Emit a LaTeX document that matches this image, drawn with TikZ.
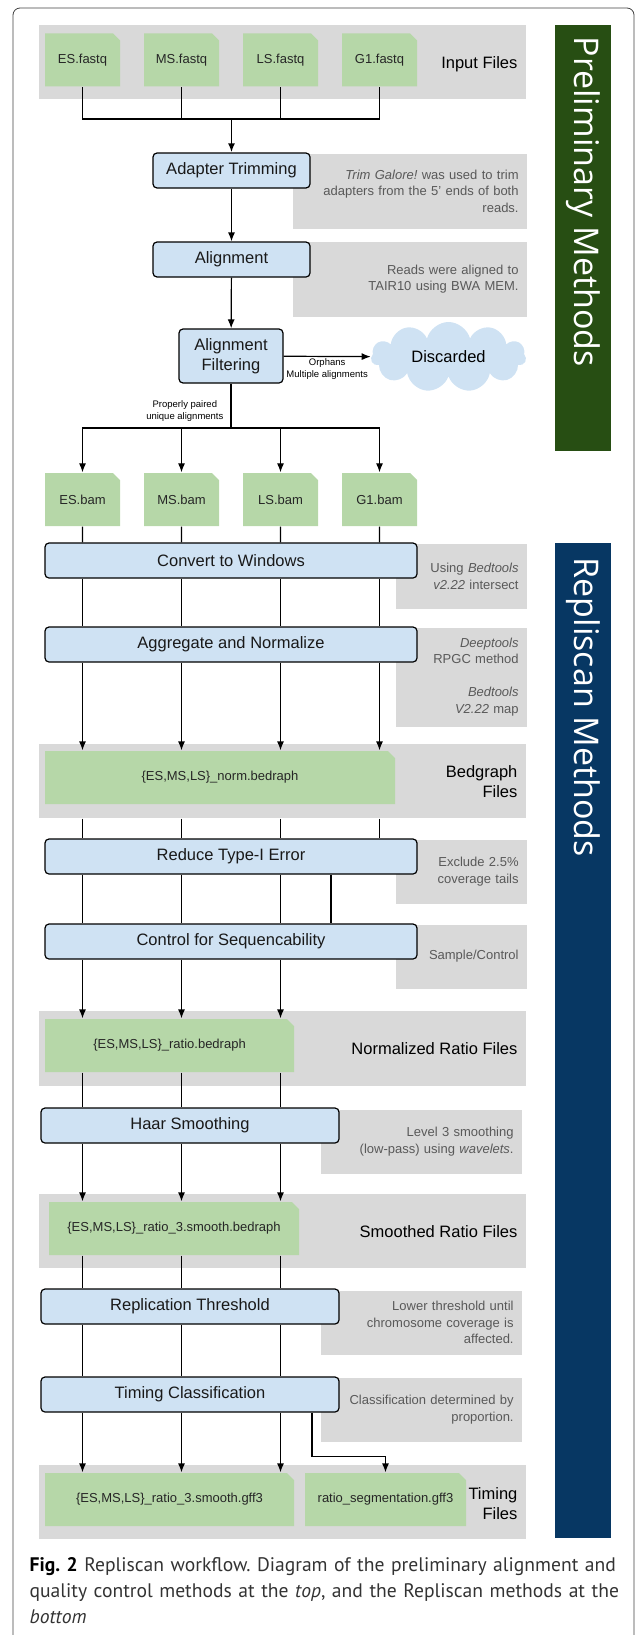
\documentclass[tikz,border=0pt]{standalone}
\usepackage{fontspec}
\setmainfont{Liberation Sans}
\newfontfamily\capfont{PT Sans}
\newfontfamily\sidefont{Open Sans}
\usetikzlibrary{positioning,shapes.misc,shapes.symbols,arrows.meta}
\frenchspacing

\definecolor{bandgray}{HTML}{D9D9D9}
\definecolor{filegreen}{HTML}{B6D7A8}
\definecolor{procblue}{HTML}{CFE2F3}
\definecolor{prelimgreen}{HTML}{274E13}
\definecolor{repliblue}{HTML}{073763}
\definecolor{notegray}{HTML}{595959}
\definecolor{capgray}{HTML}{333333}

\tikzset{
  proc/.style = {draw, line width=1.2pt, fill=procblue, rounded corners=4pt, minimum height=35pt, inner sep=2pt, font=\fontsize{16.5}{20}\selectfont, text=black!90},
  doc/.style = {chamfered rectangle, chamfered rectangle corners=north east, chamfered rectangle xsep=3.5pt, chamfered rectangle ysep=3.5pt, fill=filegreen, minimum height=53pt, inner sep=0pt, font=\fontsize{13}{16}\selectfont, text=black!85},
  band/.style = {fill=bandgray, minimum height=74pt, minimum width=487.5pt, inner sep=0pt},
  note/.style = {fill=bandgray, anchor=north west, align=right, inner xsep=8pt, inner ysep=0pt, font=\fontsize{13}{16.5}\selectfont, text=notegray},
  lbl/.style = {anchor=east, align=right, inner sep=0pt, font=\fontsize{16.5}{20}\selectfont},
  tag/.style = {align=center, inner sep=2pt, font=\fontsize{9.5}{12}\selectfont},
  side/.style = {rotate=-90, anchor=west, text=white, inner sep=0pt, font=\sidefont\fontsize{34}{40}\selectfont},
}

\begin{document}
\begin{tikzpicture}[x=1pt, y=-1pt, >={Latex[length=9pt,width=7pt]}, line width=1.2pt, node distance=99pt]
\useasboundingbox (0,0) rectangle (635,1635);
% outer frame
\draw[line width=0.8pt, black!75, rounded corners=7pt] (13,1700) -- (13,8) -- (634,8) -- (634,1700);

% side bars
\fill[prelimgreen] (555,25) rectangle (611,451);
\fill[repliblue] (555,543) rectangle (611,1538);
\node[side] (s1) at (583,36) {Preliminary Methods};
\node[side] (s2) at (583,557) {Repliscan Methods};

% gray bands for the files
\node[band] (b1) at (282.25,62) {};
\node[band] (b2) at (282.25,781) {};
\node[band, minimum height=75pt] (b3) at (282.25,1048.5) {};
\node[band] (b4) at (282.25,1231) {};
\node[band] (b5) at (282.25,1502) {};
\node[lbl] (l1) at (518,64) {Input Files};
\node[lbl] (l2) at (518,782) {Bedgraph\\Files};
\node[lbl] (l3) at (518,1049) {Normalized Ratio Files};
\node[lbl] (l4) at (518,1232) {Smoothed Ratio Files};
\node[lbl] (l5) at (518,1503.5) {Timing\\Files};

% notes
\node[note, text width=218pt, minimum height=75pt] (n1) at (292,153) {\textit{Trim Galore!} was used to trim\\adapters from the 5' ends of both\\reads.};
\node[note, text width=218pt, minimum height=75pt] (n2) at (292,241) {Reads were aligned to\\TAIR10 using BWA MEM.};
\node[note, text width=115pt, minimum height=65pt] (n3) at (395,543) {Using \textit{Bedtools}\\\textit{v2.22} intersect};
\node[note, text width=115pt, minimum height=99pt] (n4) at (395,627) {\textit{Deeptools}\\RPGC method\\[16.5pt]\textit{Bedtools}\\\textit{V2.22} map};
\node[note, text width=115pt, minimum height=64pt] (n5) at (395,839) {Exclude 2.5\%\\coverage tails};
\node[note, text width=115pt, minimum height=64pt] (n6) at (395,924) {Sample/Control};
\node[note, text width=185pt, minimum height=64pt] (n7) at (320,1109) {Level 3 smoothing\\(low-pass) using \textit{wavelets}.};
\node[note, text width=185pt, minimum height=64pt] (n8) at (320,1290) {Lower threshold until\\chromosome coverage is\\affected.};
\node[note, text width=185pt, minimum height=64pt] (n9) at (320,1377) {Classification determined by\\proportion.};

% files
\node[doc, minimum width=75pt] (1) at (82.5,60) {ES.fastq};
\node[doc, minimum width=75pt] (2) [right of=1] {MS.fastq};
\node[doc, minimum width=75pt] (3) [right of=2] {LS.fastq};
\node[doc, minimum width=75pt] (4) [right of=3] {G1.fastq};

\node[proc, minimum width=157pt] (5) at (231.5,170.5) {Adapter Trimming};
\node[proc, minimum width=157pt] (6) at (231.5,259.5) {Alignment};
\node[proc, minimum width=104pt, minimum height=54pt, align=center] (7) at (231,356) {Alignment\\Filtering};
\node[cloud, cloud puffs=11, aspect=2.2, fill=procblue, minimum width=155pt, minimum height=70pt, inner sep=0pt, font=\fontsize{16.5}{20}\selectfont] (8) at (448.5,357) {Discarded};

\node[doc, minimum width=75pt] (9) at (82.5,499.5) {ES.bam};
\node[doc, minimum width=75pt] (10) [right of=9] {MS.bam};
\node[doc, minimum width=75pt] (11) [right of=10] {LS.bam};
\node[doc, minimum width=75pt] (12) [right of=11] {G1.bam};

\node[proc, minimum width=372pt] (13) at (231,560.5) {Convert to Windows};
\node[proc, minimum width=372pt] (14) at (231,644.5) {Aggregate and Normalize};
\node[doc, minimum width=350pt] (15) at (220,777.5) {\{ES,MS,LS\}\_norm.bedraph};
\node[proc, minimum width=372pt] (16) at (231,856.5) {Reduce Type-I Error};
\node[proc, minimum width=372pt] (17) at (231,941.5) {Control for Sequencability};
\node[doc, minimum width=249pt] (18) at (169.5,1045.5) {\{ES,MS,LS\}\_ratio.bedraph};
\node[proc, minimum width=298pt] (19) at (190,1125.5) {Haar Smoothing};
\node[doc, minimum width=250pt] (20) at (174,1228.5) {\{ES,MS,LS\}\_ratio\_3.smooth.bedraph};
\node[proc, minimum width=298pt] (21) at (190,1306.5) {Replication Threshold};
\node[proc, minimum width=298pt] (22) at (190,1394.5) {Timing Classification};
\node[doc, minimum width=249pt] (23) at (169.5,1499.5) {\{ES,MS,LS\}\_ratio\_3.smooth.gff3};
\node[doc, minimum width=161pt] (24) at (385.5,1499.5) {ratio\_segmentation.gff3};

% preliminary part
\coordinate (m1) at (231.5,119);
\foreach \i in {1,...,4}
  \draw (\i) |- (m1);
\draw[->, line width=1.8pt] (m1) -- (5);
\draw[->] (5) -- (6);
\draw[->] (6) -- (7);
\draw[->] (7) -- node[tag, below] {Orphans\\Multiple alignments} (8);
\coordinate (m2) at (231,428);
\draw (7) -- node[tag, left, pos=0.62, xshift=-5pt] {Properly paired\\unique alignments} (m2);
\foreach \i in {9,...,12}
  \draw[->] (m2) -| (\i);

% repliscan part
\foreach \i in {9,...,12} {
  \draw (\i) -- (\i |- 13.north);
  \draw (\i |- 13.south) -- (\i |- 14.north);
  \draw[->] (\i |- 14.south) -- (\i |- 15.north);
  \draw (\i |- b2.south) -- (\i |- 16.north);
}
\draw ([xshift=100pt]16.south) -- ([xshift=100pt]17.north);
\foreach \i in {9,...,11} {
  \draw (\i |- 16.south) -- (\i |- 17.north);
  \draw[->] (\i |- 17.south) -- (\i |- 18.north);
  \draw (\i |- 18.south) -- (\i |- 19.north);
  \draw[->] (\i |- 19.south) -- (\i |- 20.north);
  \draw (\i |- 20.south) -- (\i |- 21.north);
  \draw (\i |- 21.south) -- (\i |- 22.north);
  \draw[->] (\i |- 22.south) -- (\i |- 23.north);
}
\draw[->] ([xshift=122pt]22.south) -- ++(0,44) -| (24.north);

% caption
\node[anchor=north west, inner sep=0pt, text width=605pt, align=left, font=\capfont\fontsize{19.6}{26}\selectfont, text=capgray] (cap) at (29,1557) {\textcolor{black}{\textbf{Fig. 2}} Repliscan workflow. Diagram of the preliminary alignment and\\quality control methods at the \textit{top}, and the Repliscan methods at the\\\textit{bottom}};
\end{tikzpicture}
\end{document}
